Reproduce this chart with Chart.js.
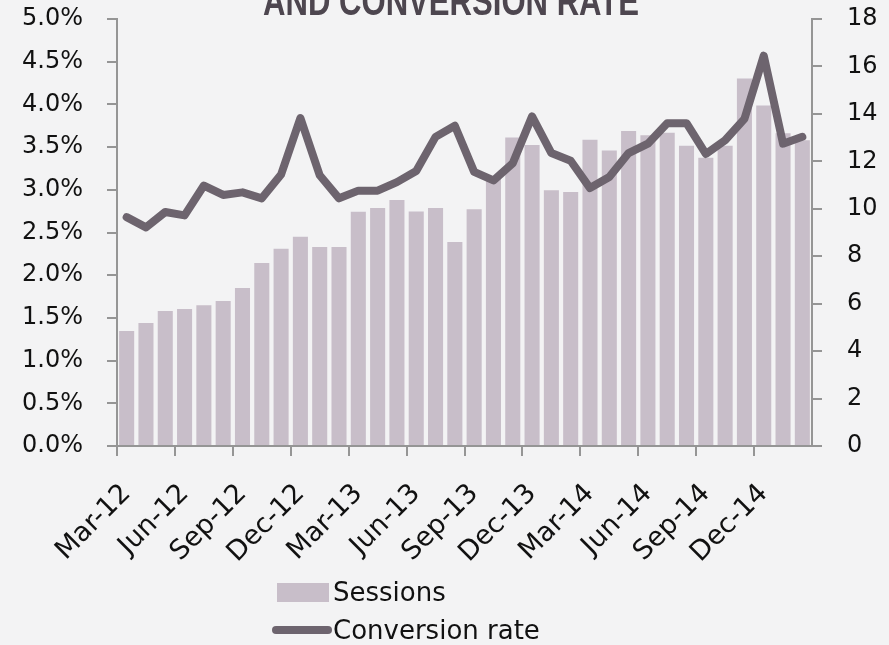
<!DOCTYPE html>
<html>
<head>
<meta charset="utf-8">
<script src="https://cdn.jsdelivr.net/npm/chart.js@4.4.1/dist/chart.umd.min.js"></script>
<style>
  body { margin: 0; background: #f3f3f4; }
  #wrap { position: relative; width: 889px; height: 645px; }
  #legend { position: absolute; left: 272px; top: 573px; font-family: "DejaVu Sans", sans-serif; font-size: 26px; color: #111; }
  .item { display: flex; align-items: center; height: 38px; }
  .box { width: 52px; height: 19px; margin: 0 4px 0 5px; }
  .ln { width: 60px; height: 8px; border-radius: 4px; margin-right: 1px; }
</style>
</head>
<body>
<div id="wrap">
  <canvas id="chart1"></canvas>
  <div id="legend"></div>
</div>
<script>
// months Mar-12 .. Feb-15
var months = ['Mar-12','Apr-12','May-12','Jun-12','Jul-12','Aug-12','Sep-12','Oct-12','Nov-12','Dec-12','Jan-13','Feb-13',
  'Mar-13','Apr-13','May-13','Jun-13','Jul-13','Aug-13','Sep-13','Oct-13','Nov-13','Dec-13','Jan-14','Feb-14',
  'Mar-14','Apr-14','May-14','Jun-14','Jul-14','Aug-14','Sep-14','Oct-14','Nov-14','Dec-14','Jan-15','Feb-15']

// sessions (right axis)
var sessions = [4.85, 5.19, 5.69, 5.78, 5.93, 6.11, 6.66, 7.71, 8.31, 8.82, 8.39, 8.39,
  9.87, 10.03, 10.37, 9.89, 10.03, 8.6, 9.98, 11.3, 13.0, 12.69, 10.78, 10.71,
  12.91, 12.46, 13.28, 13.1, 13.2, 12.66, 12.15, 12.66, 15.49, 14.35, 13.18, 12.89]

// conversion rate in % (left axis)
var convRate = [2.68, 2.56, 2.74, 2.70, 3.05, 2.94, 2.97, 2.90, 3.18, 3.84, 3.17, 2.90,
  2.99, 2.99, 3.09, 3.22, 3.62, 3.75, 3.21, 3.11, 3.31, 3.86, 3.43, 3.34,
  3.02, 3.15, 3.43, 3.54, 3.78, 3.78, 3.42, 3.58, 3.83, 4.57, 3.54, 3.62]

var barColor = '#c8bec9'
var lineColor = '#6d646e'
var axisColor = '#959595'
var tickFont = {family: 'DejaVu Sans', size: 24}

var titlePlugin = {
  id: 'cutTitle',
  afterDraw: function(chart){
    var ctx = chart.ctx
    ctx.save()
    ctx.fillStyle = '#4d464f'
    ctx.font = 'bold 40px "Liberation Sans"'
    ctx.textAlign = 'center'
    ctx.textBaseline = 'alphabetic'
    ctx.fillText('AND CONVERSION RATE', 451, 15, 376)
    ctx.restore()
  }
}

var chart = new Chart('chart1', {
  type: 'bar',
  data: {
    labels: months,
    datasets: [{
      type: 'line',
      label: 'Conversion rate',
      data: convRate,
      yAxisID: 'y',
      borderColor: lineColor,
      backgroundColor: lineColor,
      borderWidth: 8,
      pointRadius: 0,
      tension: 0,
      borderJoinStyle: 'round',
      borderCapStyle: 'round',
      order: 1
    }, {
      label: 'Sessions',
      data: sessions,
      yAxisID: 'y1',
      backgroundColor: barColor,
      barPercentage: 0.78,
      categoryPercentage: 1.0,
      order: 2
    }]
  },
  options: {
    responsive: true,
    maintainAspectRatio: false,
    animation: false,
    layout: { padding: { top: 19, bottom: 0, left: 0, right: 0 } },
    plugins: {
      legend: { display: false },
      tooltip: { enabled: false }
    },
    scales: {
      x: {
        afterFit: function(s){ s.height = 199 },
        border: { color: axisColor, width: 2 },
        grid: {
          offset: true,
          drawOnChartArea: false,
          tickLength: 10,
          lineWidth: 2,
          color: function(c){ return c.index % 3 === 0 ? axisColor : 'rgba(0,0,0,0)' }
        },
        ticks: {
          autoSkip: false,
          minRotation: 45,
          maxRotation: 45,
          padding: 22,
          color: '#111',
          font: {family: 'DejaVu Sans', size: 27},
          callback: function(v, i){ return i % 3 === 0 ? months[i] : '' }
        }
      },
      y: {
        position: 'left',
        min: 0,
        max: 5,
        afterFit: function(s){ s.width = 117; s.paddingTop = 0; s.paddingBottom = 0 },
        border: { color: axisColor, width: 2 },
        grid: { drawOnChartArea: false, tickLength: 10, lineWidth: 2, color: axisColor },
        ticks: {
          stepSize: 0.5,
          padding: 24,
          color: '#111',
          font: tickFont,
          callback: function(v){ return v.toFixed(1) + '%' }
        }
      },
      y1: {
        position: 'right',
        min: 0,
        max: 18,
        afterFit: function(s){ s.width = 77; s.paddingTop = 0; s.paddingBottom = 0 },
        border: { color: axisColor, width: 2 },
        grid: { drawOnChartArea: false, tickLength: 10, lineWidth: 2, color: axisColor },
        ticks: {
          stepSize: 2,
          padding: 25,
          color: '#111',
          font: tickFont
        }
      }
    }
  },
  plugins: [titlePlugin]
})

// legend, stacked like the original
var lg = document.getElementById('legend')
lg.innerHTML =
  '<div class="item"><span class="box" style="background:' + barColor + '"></span>' + chart.data.datasets[1].label + '</div>' +
  '<div class="item"><span class="ln" style="background:' + lineColor + '"></span>' + chart.data.datasets[0].label + '</div>'
</script>
</body>
</html>
